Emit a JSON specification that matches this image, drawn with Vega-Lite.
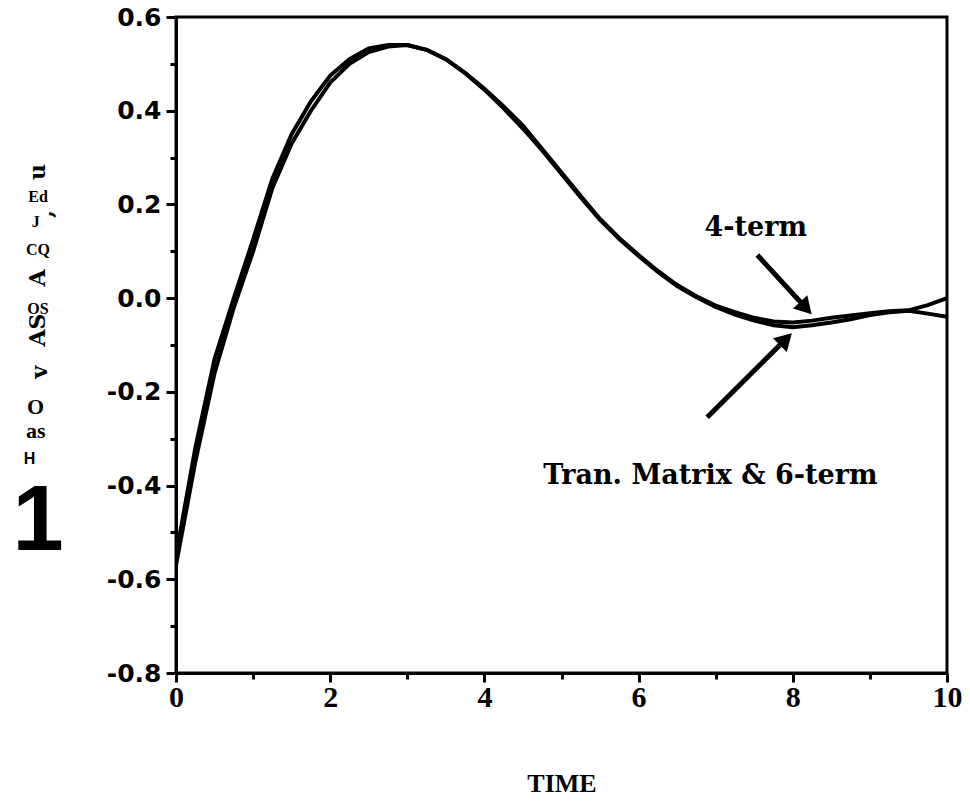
{
  "$schema": "https://vega.github.io/schema/vega-lite/v6.json",
  "width": 771,
  "height": 656,
  "autosize": {"type": "none"},
  "padding": {"left": 176, "top": 17, "right": 23, "bottom": 136},
  "background": "white",
  "config": {
    "view": {"stroke": "black", "strokeWidth": 3},
    "axis": {"grid": false, "domainColor": "black", "domainWidth": 3, "tickColor": "black", "tickWidth": 3, "labelColor": "black", "titleColor": "black"}
  },
  "datasets": {
    "curves": [
      {"series": "Tran. Matrix & 6-term", "t": 0, "y": -0.57},
      {"series": "Tran. Matrix & 6-term", "t": 0.25, "y": -0.35},
      {"series": "Tran. Matrix & 6-term", "t": 0.5, "y": -0.16},
      {"series": "Tran. Matrix & 6-term", "t": 0.75, "y": -0.02},
      {"series": "Tran. Matrix & 6-term", "t": 1.0, "y": 0.1},
      {"series": "Tran. Matrix & 6-term", "t": 1.25, "y": 0.235},
      {"series": "Tran. Matrix & 6-term", "t": 1.5, "y": 0.33},
      {"series": "Tran. Matrix & 6-term", "t": 1.75, "y": 0.4},
      {"series": "Tran. Matrix & 6-term", "t": 2.0, "y": 0.46},
      {"series": "Tran. Matrix & 6-term", "t": 2.25, "y": 0.5},
      {"series": "Tran. Matrix & 6-term", "t": 2.5, "y": 0.525},
      {"series": "Tran. Matrix & 6-term", "t": 2.75, "y": 0.537},
      {"series": "Tran. Matrix & 6-term", "t": 3.0, "y": 0.54},
      {"series": "Tran. Matrix & 6-term", "t": 3.25, "y": 0.53},
      {"series": "Tran. Matrix & 6-term", "t": 3.5, "y": 0.51},
      {"series": "Tran. Matrix & 6-term", "t": 3.75, "y": 0.48},
      {"series": "Tran. Matrix & 6-term", "t": 4.0, "y": 0.445},
      {"series": "Tran. Matrix & 6-term", "t": 4.25, "y": 0.405},
      {"series": "Tran. Matrix & 6-term", "t": 4.5, "y": 0.362},
      {"series": "Tran. Matrix & 6-term", "t": 4.75, "y": 0.315},
      {"series": "Tran. Matrix & 6-term", "t": 5.0, "y": 0.265},
      {"series": "Tran. Matrix & 6-term", "t": 5.25, "y": 0.215},
      {"series": "Tran. Matrix & 6-term", "t": 5.5, "y": 0.167},
      {"series": "Tran. Matrix & 6-term", "t": 5.75, "y": 0.126},
      {"series": "Tran. Matrix & 6-term", "t": 6.0, "y": 0.09},
      {"series": "Tran. Matrix & 6-term", "t": 6.25, "y": 0.056},
      {"series": "Tran. Matrix & 6-term", "t": 6.5, "y": 0.026},
      {"series": "Tran. Matrix & 6-term", "t": 6.75, "y": 0.002},
      {"series": "Tran. Matrix & 6-term", "t": 7.0, "y": -0.019},
      {"series": "Tran. Matrix & 6-term", "t": 7.25, "y": -0.035},
      {"series": "Tran. Matrix & 6-term", "t": 7.5, "y": -0.048},
      {"series": "Tran. Matrix & 6-term", "t": 7.75, "y": -0.058},
      {"series": "Tran. Matrix & 6-term", "t": 8.0, "y": -0.062},
      {"series": "Tran. Matrix & 6-term", "t": 8.25, "y": -0.058},
      {"series": "Tran. Matrix & 6-term", "t": 8.5, "y": -0.052},
      {"series": "Tran. Matrix & 6-term", "t": 8.75, "y": -0.045},
      {"series": "Tran. Matrix & 6-term", "t": 9.0, "y": -0.036},
      {"series": "Tran. Matrix & 6-term", "t": 9.25, "y": -0.03},
      {"series": "Tran. Matrix & 6-term", "t": 9.5, "y": -0.027},
      {"series": "Tran. Matrix & 6-term", "t": 9.75, "y": -0.033},
      {"series": "Tran. Matrix & 6-term", "t": 10.0, "y": -0.04},
      {"series": "4-term", "t": 0, "y": -0.55},
      {"series": "4-term", "t": 0.25, "y": -0.32},
      {"series": "4-term", "t": 0.5, "y": -0.13},
      {"series": "4-term", "t": 0.75, "y": 0.0},
      {"series": "4-term", "t": 1.0, "y": 0.125},
      {"series": "4-term", "t": 1.25, "y": 0.255},
      {"series": "4-term", "t": 1.5, "y": 0.35},
      {"series": "4-term", "t": 1.75, "y": 0.42},
      {"series": "4-term", "t": 2.0, "y": 0.475},
      {"series": "4-term", "t": 2.25, "y": 0.51},
      {"series": "4-term", "t": 2.5, "y": 0.533},
      {"series": "4-term", "t": 2.75, "y": 0.54},
      {"series": "4-term", "t": 3.0, "y": 0.54},
      {"series": "4-term", "t": 3.25, "y": 0.53},
      {"series": "4-term", "t": 3.5, "y": 0.51},
      {"series": "4-term", "t": 3.75, "y": 0.481},
      {"series": "4-term", "t": 4.0, "y": 0.447},
      {"series": "4-term", "t": 4.25, "y": 0.409},
      {"series": "4-term", "t": 4.5, "y": 0.368},
      {"series": "4-term", "t": 4.75, "y": 0.318},
      {"series": "4-term", "t": 5.0, "y": 0.268},
      {"series": "4-term", "t": 5.25, "y": 0.218},
      {"series": "4-term", "t": 5.5, "y": 0.169},
      {"series": "4-term", "t": 5.75, "y": 0.128},
      {"series": "4-term", "t": 6.0, "y": 0.092},
      {"series": "4-term", "t": 6.25, "y": 0.058},
      {"series": "4-term", "t": 6.5, "y": 0.028},
      {"series": "4-term", "t": 6.75, "y": 0.004},
      {"series": "4-term", "t": 7.0, "y": -0.016},
      {"series": "4-term", "t": 7.25, "y": -0.03},
      {"series": "4-term", "t": 7.5, "y": -0.042},
      {"series": "4-term", "t": 7.75, "y": -0.05},
      {"series": "4-term", "t": 8.0, "y": -0.052},
      {"series": "4-term", "t": 8.25, "y": -0.048},
      {"series": "4-term", "t": 8.5, "y": -0.042},
      {"series": "4-term", "t": 8.75, "y": -0.037},
      {"series": "4-term", "t": 9.0, "y": -0.032},
      {"series": "4-term", "t": 9.25, "y": -0.028},
      {"series": "4-term", "t": 9.5, "y": -0.026},
      {"series": "4-term", "t": 9.75, "y": -0.015},
      {"series": "4-term", "t": 10.0, "y": 0.0}
    ]
  },
  "encoding": {
    "x": {
      "field": "t", "type": "quantitative",
      "scale": {"domain": [0, 10], "nice": false, "zero": false},
      "axis": {
        "title": "TIME",
        "values": [0, 1, 2, 3, 4, 5, 6, 7, 8, 9, 10],
        "labelExpr": "datum.value % 2 == 0 ? datum.label : ''",
        "tickSize": {"condition": {"test": "datum.value % 2 == 0", "value": 9}, "value": 6},
        "labelFont": "Liberation Serif", "labelFontWeight": "bold", "labelFontSize": 30,
        "labelPadding": 0, "labelFlush": false,
        "titleFont": "Liberation Serif", "titleFontWeight": "bold", "titleFontSize": 26,
        "titlePadding": 58
      }
    },
    "y": {
      "field": "y", "type": "quantitative",
      "scale": {"domain": [-0.8, 0.6], "nice": false, "zero": false},
      "axis": {
        "title": null,
        "values": [-0.8, -0.7, -0.6, -0.5, -0.4, -0.3, -0.2, -0.1, 0, 0.1, 0.2, 0.3, 0.4, 0.5, 0.6],
        "labelExpr": "abs(round(datum.value*10)) % 2 == 0 ? replace(format(datum.value, '.1f'), '−', '-') : ''",
        "tickSize": {"condition": {"test": "abs(round(datum.value*10)) % 2 == 0", "value": 10}, "value": 6},
        "labelFont": "DejaVu Sans", "labelFontWeight": "bold", "labelFontSize": 25,
        "labelPadding": 5, "labelFlush": false
      }
    }
  },
  "layer": [
    {
      "data": {"name": "curves"},
      "mark": {"type": "line", "color": "black", "strokeWidth": 4, "clip": true},
      "encoding": {
        "detail": {"field": "series"}
      }
    },
    {
      "data": {"values": [
        {"t": 7.54, "y": 0.092, "t2": 8.17, "y2": -0.021},
        {"t": 6.89, "y": -0.254, "t2": 7.91, "y2": -0.0875}
      ]},
      "mark": {"type": "rule", "color": "black", "strokeWidth": 5},
      "encoding": {
        "x2": {"field": "t2"},
        "y2": {"field": "y2"}
      }
    },
    {
      "data": {"values": [{"t": 8.17, "y": -0.021}]},
      "mark": {"type": "point", "shape": "triangle-up", "filled": true, "color": "black", "opacity": 1, "size": 380, "angle": 137},
      "encoding": {}
    },
    {
      "data": {"values": [{"t": 7.91, "y": -0.0875}]},
      "mark": {"type": "point", "shape": "triangle-up", "filled": true, "color": "black", "opacity": 1, "size": 380, "angle": 45},
      "encoding": {}
    },
    {
      "data": {"values": [
        {"label": "4-term", "t": 7.52, "y": 0.149},
        {"label": "Tran. Matrix & 6-term", "t": 6.93, "y": -0.38}
      ]},
      "mark": {"type": "text", "font": "DejaVu Serif", "fontWeight": "bold", "fontSize": 27, "color": "black", "align": "center", "baseline": "middle"},
      "encoding": {
        "text": {"field": "label"}
      }
    },
    {
      "data": {"values": [
        {"label": "v", "t": -1.77, "y": -0.158},
        {"label": "AS", "t": -1.79, "y": -0.068},
        {"label": "A", "t": -1.79, "y": 0.043},
        {"label": ",", "t": -1.68, "y": 0.18},
        {"label": "u", "t": -1.79, "y": 0.269}
      ]},
      "mark": {"type": "text", "font": "DejaVu Serif", "fontWeight": "bold", "fontSize": 22, "color": "black", "align": "center", "baseline": "middle", "angle": 270},
      "encoding": {
        "text": {"field": "label"}
      }
    },
    {
      "data": {"values": [
        {"label": "Ed", "t": -1.79, "y": 0.216},
        {"label": "J", "t": -1.82, "y": 0.162},
        {"label": "CQ", "t": -1.79, "y": 0.102},
        {"label": "OS", "t": -1.79, "y": -0.023}
      ]},
      "mark": {"type": "text", "font": "Liberation Serif", "fontWeight": "bold", "fontSize": 16, "color": "black", "align": "center", "baseline": "middle"},
      "encoding": {
        "text": {"field": "label"}
      }
    },
    {
      "data": {"values": [
        {"label": "O", "t": -1.82, "y": -0.232},
        {"label": "as", "t": -1.82, "y": -0.284}
      ]},
      "mark": {"type": "text", "font": "Liberation Serif", "fontWeight": "bold", "fontSize": 22, "color": "black", "align": "center", "baseline": "middle"},
      "encoding": {
        "text": {"field": "label"}
      }
    },
    {
      "data": {"values": [
        {"label": "H", "t": -1.9, "y": -0.343}
      ]},
      "mark": {"type": "text", "font": "Liberation Sans", "fontWeight": "bold", "fontSize": 16, "color": "black", "align": "center", "baseline": "middle"},
      "encoding": {
        "text": {"field": "label"}
      }
    },
    {
      "data": {"values": [
        {"label": "1", "t": -1.79, "y": -0.478}
      ]},
      "mark": {"type": "text", "font": "Liberation Sans", "fontWeight": "bold", "fontSize": 92, "color": "black", "align": "center", "baseline": "middle"},
      "encoding": {
        "text": {"field": "label"}
      }
    }
  ]
}
